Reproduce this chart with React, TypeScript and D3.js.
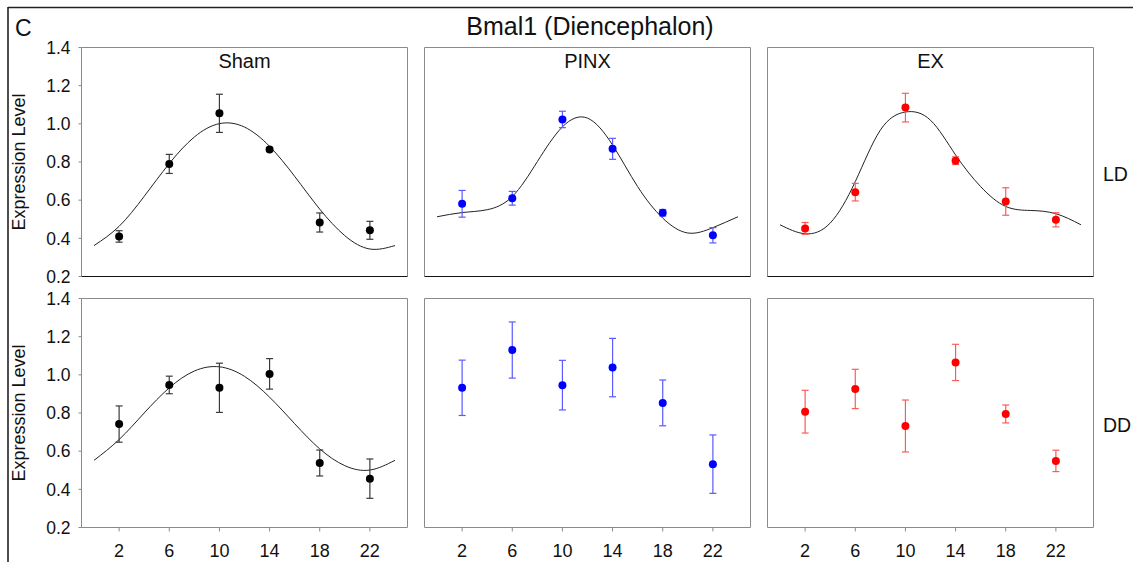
import React from "react";
import * as d3 from "d3";

const hours = [2, 6, 10, 14, 18, 22];
const xTicks = [2, 6, 10, 14, 18, 22];
const yTicks = [0.2, 0.4, 0.6, 0.8, 1.0, 1.2, 1.4];
const fitHours = [0, 2, 4, 6, 8, 10, 12, 14, 16, 18, 20, 22, 24];

const groups = ["Sham", "PINX", "EX"];
const conditions = ["LD", "DD"];

const shamLD = [0.41, 0.79, 1.055, 0.866, 0.483, 0.442];
const shamLDErr = [0.03, 0.05, 0.1, 0.01, 0.05, 0.047];
const pinxLD = [0.581, 0.61, 1.023, 0.869, 0.534, 0.416];
const pinxLDErr = [0.07, 0.036, 0.043, 0.055, 0.017, 0.04];
const exLD = [0.452, 0.642, 1.085, 0.807, 0.593, 0.497];
const exLDErr = [0.031, 0.046, 0.075, 0.02, 0.072, 0.037];

const shamDD = [0.742, 0.947, 0.932, 1.005, 0.538, 0.456];
const shamDDErr = [0.095, 0.046, 0.129, 0.08, 0.068, 0.103];
const pinxDD = [0.932, 1.13, 0.946, 1.038, 0.853, 0.532];
const pinxDDErr = [0.145, 0.147, 0.13, 0.153, 0.12, 0.153];
const exDD = [0.807, 0.926, 0.732, 1.065, 0.795, 0.549];
const exDDErr = [0.112, 0.103, 0.136, 0.095, 0.047, 0.056];

const shamLDFit = [0.362, 0.463, 0.62, 0.792, 0.931, 1.001, 0.983, 0.882, 0.725, 0.553, 0.414, 0.344, 0.362];
const pinxLDFit = [0.513, 0.535, 0.55, 0.619, 0.802, 0.984, 1.03, 0.889, 0.671, 0.506, 0.428, 0.456, 0.513];
const exLDFit = [0.471, 0.424, 0.48, 0.697, 0.967, 1.062, 1.019, 0.837, 0.671, 0.567, 0.546, 0.529, 0.471];
const shamDDFit = [0.552, 0.661, 0.8, 0.932, 1.02, 1.042, 0.992, 0.883, 0.744, 0.612, 0.524, 0.501, 0.552];

const dotColors = ["#000000", "#0000ff", "#ff0000"];
const barColors = ["#3a3a3a", "#5a5aff", "#ff5a5a"];

const panels = [
  { row: 0, col: 0, vals: shamLD, errs: shamLDErr, fit: shamLDFit },
  { row: 0, col: 1, vals: pinxLD, errs: pinxLDErr, fit: pinxLDFit },
  { row: 0, col: 2, vals: exLD, errs: exLDErr, fit: exLDFit },
  { row: 1, col: 0, vals: shamDD, errs: shamDDErr, fit: shamDDFit },
  { row: 1, col: 1, vals: pinxDD, errs: pinxDDErr, fit: null },
  { row: 1, col: 2, vals: exDD, errs: exDDErr, fit: null },
];

const FONT = "'Liberation Sans', Arial, Helvetica, sans-serif";
const W = 1133;
const H = 562;
const panelX = [81.5, 424.5, 767.5];
const panelW = 326;
const panelY = [47.5, 298.5];
const panelH = 229;

function Panel({ p }: { p: any }) {
  const x0 = panelX[p.col];
  const y0 = panelY[p.row];
  const x = d3.scaleLinear().domain([-1, 25]).range([x0, x0 + panelW]);
  const y = d3.scaleLinear().domain([0.2, 1.4]).range([y0 + panelH, y0]);
  const line = d3
    .line<number>()
    .x((_, i) => x(fitHours[i]))
    .y((d) => y(d))
    .curve(d3.curveNatural);
  const gray = "#8a8a8a";
  const dot = dotColors[p.col];
  const bar = barColors[p.col];
  return (
    <g>
      <line x1={x0} x2={x0 + panelW} y1={y0} y2={y0} stroke={gray} strokeWidth={1} />
      <line x1={x0 + panelW} x2={x0 + panelW} y1={y0} y2={y0 + panelH} stroke={gray} strokeWidth={1} />
      <line x1={x0} x2={x0} y1={y0} y2={y0 + panelH} stroke={gray} strokeWidth={1} />
      <line
        x1={x0}
        x2={x0 + panelW}
        y1={y0 + panelH}
        y2={y0 + panelH}
        stroke={p.row === 0 ? "#111" : gray}
        strokeWidth={1}
      />
      {p.col === 0 &&
        yTicks.map((t) => (
          <g key={t}>
            <line x1={x0 - 3} x2={x0} y1={y(t)} y2={y(t)} stroke={gray} />
            <text
              x={x0 - 11}
              y={y(t)}
              dy="0.36em"
              textAnchor="end"
              fontFamily={FONT}
              fontSize={17.5}
              fill="#111"
            >
              {d3.format(".1f")(t)}
            </text>
          </g>
        ))}
      {p.col === 0 && (
        <text
          transform={`translate(25,${y0 + panelH / 2}) rotate(-90)`}
          textAnchor="middle"
          fontFamily={FONT}
          fontSize={18}
          fill="#111"
        >
          Expression Level
        </text>
      )}
      {p.row === 1 &&
        xTicks.map((t) => (
          <g key={t}>
            <line x1={x(t)} x2={x(t)} y1={y0 + panelH} y2={y0 + panelH + 4} stroke={gray} />
            <text
              x={x(t)}
              y={557}
              textAnchor="middle"
              fontFamily={FONT}
              fontSize={18}
              fill="#111"
            >
              {t}
            </text>
          </g>
        ))}
      {p.fit && <path d={line(p.fit) || ""} fill="none" stroke="#222" strokeWidth={1} />}
      {hours.map((h, i) => {
        const cx = x(h);
        const v = p.vals[i];
        const e = p.errs[i];
        return (
          <g key={h}>
            <line x1={cx} x2={cx} y1={y(v + e)} y2={y(v - e)} stroke={bar} strokeWidth={1.2} />
            <line x1={cx - 3.5} x2={cx + 3.5} y1={y(v + e)} y2={y(v + e)} stroke={bar} strokeWidth={1.2} />
            <line x1={cx - 3.5} x2={cx + 3.5} y1={y(v - e)} y2={y(v - e)} stroke={bar} strokeWidth={1.2} />
            <circle cx={cx} cy={y(v)} r={4} fill={dot} />
          </g>
        );
      })}
      {p.row === 0 && (
        <text
          x={x0 + panelW / 2}
          y={68}
          textAnchor="middle"
          fontFamily={FONT}
          fontSize={20}
          fill="#111"
        >
          {groups[p.col]}
        </text>
      )}
    </g>
  );
}

export default function App() {
  return (
    <svg
      width={W}
      height={H}
      style={{ position: "absolute", left: 0, top: 0, background: "#fff" }}
    >
      <rect x={0} y={0} width={W} height={H} fill="#fff" />
      <line x1={8} x2={W} y1={7.5} y2={7.5} stroke="#222" strokeWidth={1.6} />
      <line x1={8} x2={8} y1={7} y2={H} stroke="#222" strokeWidth={1.6} />
      <text x={15} y={36} fontFamily={FONT} fontSize={23} fill="#111">
        C
      </text>
      <text x={590} y={35} textAnchor="middle" fontFamily={FONT} fontSize={25} fill="#111">
        Bmal1 (Diencephalon)
      </text>
      {panels.map((p, i) => (
        <Panel key={i} p={p} />
      ))}
      {conditions.map((c, i) => (
        <text
          key={c}
          x={1103}
          y={i === 0 ? 181 : 432}
          fontFamily={FONT}
          fontSize={19.5}
          fill="#111"
        >
          {c}
        </text>
      ))}
    </svg>
  );
}
